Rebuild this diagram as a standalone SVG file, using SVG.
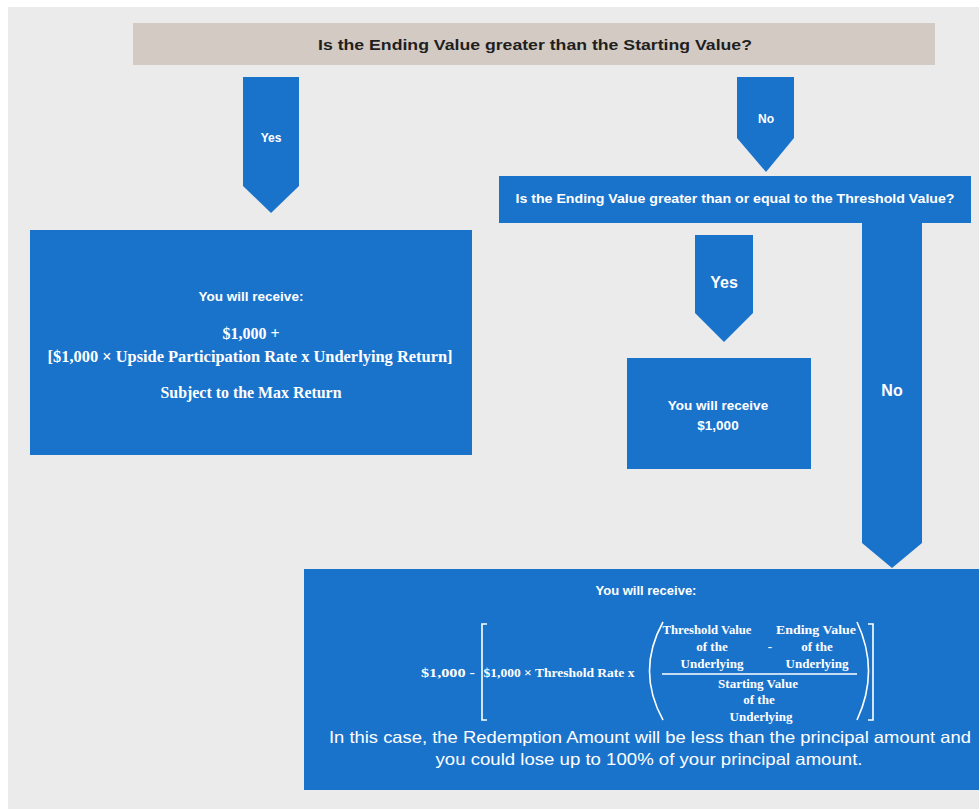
<svg xmlns="http://www.w3.org/2000/svg" width="979" height="809" viewBox="0 0 979 809">
<style>
.blue{fill:#1a73cb}
.bar{fill:#d3cac3}
.sans{font-family:"Liberation Sans","Open Sans",sans-serif;font-weight:bold;fill:#fff;text-anchor:middle}
.serif{font-family:"Liberation Serif","DejaVu Serif",serif;font-weight:bold;fill:#fff;text-anchor:middle}
.reg{font-family:"Liberation Sans","Open Sans",sans-serif;fill:#fff;text-anchor:middle}
.delim{fill:none;stroke:#fff;stroke-width:1.6}
</style>
<rect width="979" height="809" fill="#ffffff"/>
<rect x="8" y="7" width="971" height="802" fill="#ebebeb"/>

<g id="q1">
<rect class="bar" x="133" y="23" width="802" height="42"/>
<text x="535" y="50" class="sans" style="fill:#1f1f1f" font-size="15.5" textLength="434" lengthAdjust="spacingAndGlyphs">Is the Ending Value greater than the Starting Value?</text>
</g>

<g id="q2">
<rect class="blue" x="499" y="176" width="472" height="47"/>
<text x="735" y="203" class="sans" font-size="13" textLength="439" lengthAdjust="spacingAndGlyphs">Is the Ending Value greater than or equal to the Threshold Value?</text>
</g>

<g id="outcome-up">
<rect class="blue" x="30" y="230" width="442" height="225"/>
<text x="251" y="301" class="sans" font-size="13.5">You will receive:</text>
<text x="251" y="339" class="serif" font-size="16">$1,000 +</text>
<text x="250" y="362" class="serif" font-size="16" textLength="405" lengthAdjust="spacingAndGlyphs">[$1,000 × Upside Participation Rate x Underlying Return]</text>
<text x="251" y="398" class="serif" font-size="16" textLength="181" lengthAdjust="spacingAndGlyphs">Subject to the Max Return</text>
</g>

<g id="outcome-par">
<rect class="blue" x="627" y="358" width="184" height="111"/>
<text x="718" y="410" class="sans" font-size="13.5">You will receive</text>
<text x="718" y="430" class="sans" font-size="13.5">$1,000</text>
</g>

<g id="outcome-down">
<rect class="blue" x="304" y="569" width="675" height="221"/>
<text x="646" y="595" class="sans" font-size="13">You will receive:</text>
<text x="448" y="677" class="serif" font-size="13" textLength="54" lengthAdjust="spacingAndGlyphs">$1,000 -</text>
<path class="delim" d="M487,624 H482 V720 H487"/>
<text x="559" y="677" class="serif" font-size="13" textLength="151" lengthAdjust="spacingAndGlyphs">$1,000 × Threshold Rate x</text>
<path class="delim" d="M663,622 Q636,671 663,720"/>
<text x="707" y="634" class="serif" font-size="13" textLength="89" lengthAdjust="spacingAndGlyphs">Threshold Value</text>
<text x="712" y="651" class="serif" font-size="13">of the</text>
<text x="712" y="668" class="serif" font-size="13">Underlying</text>
<text x="770" y="651" class="serif" font-size="13">-</text>
<text x="816" y="634" class="serif" font-size="13" textLength="80" lengthAdjust="spacingAndGlyphs">Ending Value</text>
<text x="817" y="651" class="serif" font-size="13">of the</text>
<text x="817" y="668" class="serif" font-size="13">Underlying</text>
<line x1="662" y1="674" x2="857" y2="674" stroke="#fff" stroke-width="1.5"/>
<text x="758" y="688" class="serif" font-size="13">Starting Value</text>
<text x="759" y="704" class="serif" font-size="13">of the</text>
<text x="761" y="721" class="serif" font-size="13">Underlying</text>
<path class="delim" d="M857,622 Q880,671 857,720"/>
<path class="delim" d="M868,624 H873 V720 H868"/>
<text x="650" y="743" class="reg" font-size="16.5" textLength="642" lengthAdjust="spacingAndGlyphs">In this case, the Redemption Amount will be less than the principal amount and</text>
<text x="649" y="765" class="reg" font-size="16.5" textLength="427" lengthAdjust="spacingAndGlyphs">you could lose up to 100% of your principal amount.</text>
</g>

<g id="connectors">
<g id="c-yes1">
<path class="blue" d="M243,77 H299 V186 L271,213 L243,186 Z"/>
<text x="271" y="142" class="sans" font-size="12">Yes</text>
</g>
<g id="c-no1">
<path class="blue" d="M737,77 H794 V138 L766,172 L737,138 Z"/>
<text x="766" y="123" class="sans" font-size="12">No</text>
</g>
<g id="c-yes2">
<path class="blue" d="M695,235 H753 V313 L724,342 L695,313 Z"/>
<text x="724" y="288" class="sans" font-size="16">Yes</text>
</g>
<g id="c-no2">
<path class="blue" d="M862,222 H922 V543 L892,568 L862,543 Z"/>
<text x="892" y="396" class="sans" font-size="16">No</text>
</g>
</g>
</svg>
